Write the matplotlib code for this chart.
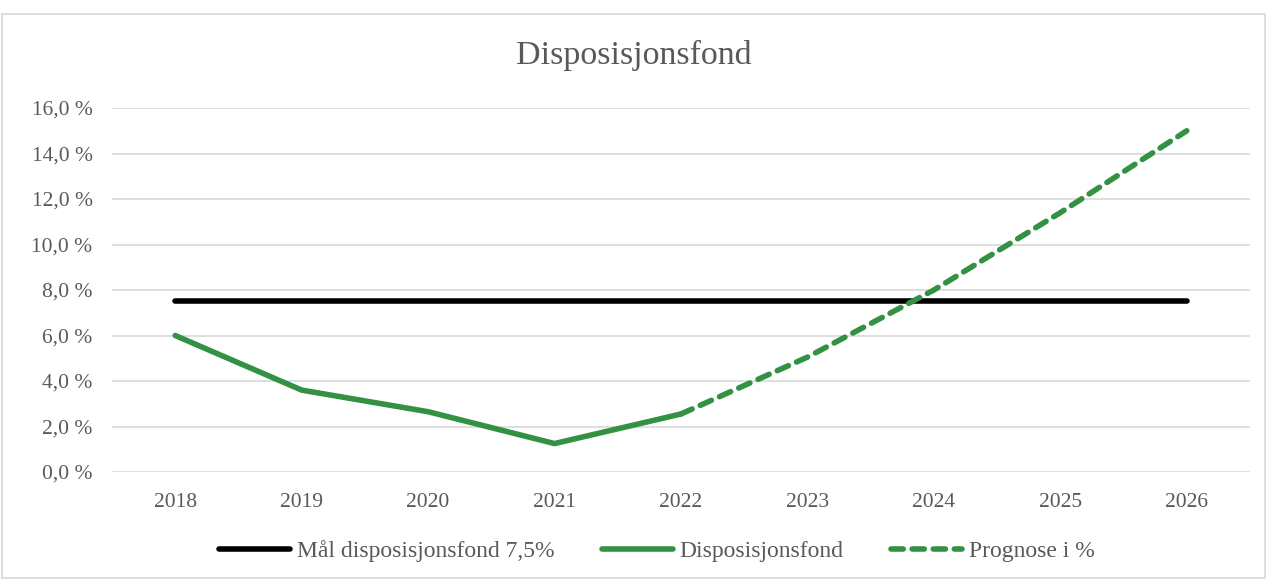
"""Disposisjonsfond: actual level, forecast and target (7.5 %)."""

import matplotlib.pyplot as plt
from matplotlib.patches import Rectangle
from matplotlib.ticker import FuncFormatter

years = ["2018", "2019", "2020", "2021", "2022", "2023", "2024", "2025", "2026"]
target = [7.5, 7.5, 7.5, 7.5, 7.5, 7.5, 7.5, 7.5, 7.5]
actual_years = ["2018", "2019", "2020", "2021", "2022"]
actual = [6.0, 3.6, 2.65, 1.25, 2.55]
forecast_years = ["2022", "2023", "2024", "2025", "2026"]
forecast = [2.55, 5.05, 8.0, 11.4, 15.0]
y_ticks = [0, 2, 4, 6, 8, 10, 12, 14, 16]

GREEN = "#339143"
TEXT = "#595959"
GRID = "#D9D9D9"

plt.rcParams["font.family"] = ["Liberation Serif", "DejaVu Serif"]

fig = plt.figure(figsize=(12.67, 5.8), dpi=100)
ax = fig.add_axes([112 / 1267, 1 - 472 / 580, (1250 - 112) / 1267, (472 - 108) / 580])

pos = {y: i for i, y in enumerate(years)}
ax.plot([pos[y] for y in years], target, color="black", linewidth=4,
        solid_capstyle="round", label="Mål disposisjonsfond 7,5%", zorder=3)
ax.plot([pos[y] for y in actual_years], actual, color=GREEN, linewidth=4,
        solid_capstyle="round", label="Disposisjonsfond", zorder=3)
ax.plot([pos[y] for y in forecast_years], forecast, color=GREEN, linewidth=4,
        linestyle=(0, (2.2, 1.6)), dash_capstyle="round", label="Prognose i %", zorder=3)

ax.set_xlim(-0.5, len(years) - 0.5)
ax.set_ylim(0, 16)
ax.set_yticks(y_ticks)
ax.yaxis.set_major_formatter(FuncFormatter(lambda v, _: f"{v:.1f} %".replace(".", ",")))
ax.set_xticks(range(len(years)))
ax.set_xticklabels(years)
ax.tick_params(axis="both", length=0, labelsize=15.5, labelcolor=TEXT)
ax.tick_params(axis="y", pad=14)
ax.tick_params(axis="x", pad=15)
ax.grid(axis="y", color=GRID, linewidth=1.2)
ax.set_axisbelow(True)
for spine in ax.spines.values():
    spine.set_visible(False)

fig.text(0.5, 1 - 55 / 580, "Disposisjonsfond", ha="center", va="center",
         fontsize=24.5, color=TEXT)

leg = fig.legend(loc="center", bbox_to_anchor=(657 / 1267, 1 - 551 / 580), ncol=3,
                 frameon=False, fontsize=17, handlelength=3.0, columnspacing=2.0,
                 handletextpad=0.3)
for t in leg.get_texts():
    t.set_color(TEXT)

fig.patches.append(Rectangle((2 / 1267, 2 / 580), 1 - 4 / 1267, 1 - 16 / 580,
                             transform=fig.transFigure, fill=False,
                             edgecolor=GRID, linewidth=1.2))

fig.savefig("out.png", dpi=100)
